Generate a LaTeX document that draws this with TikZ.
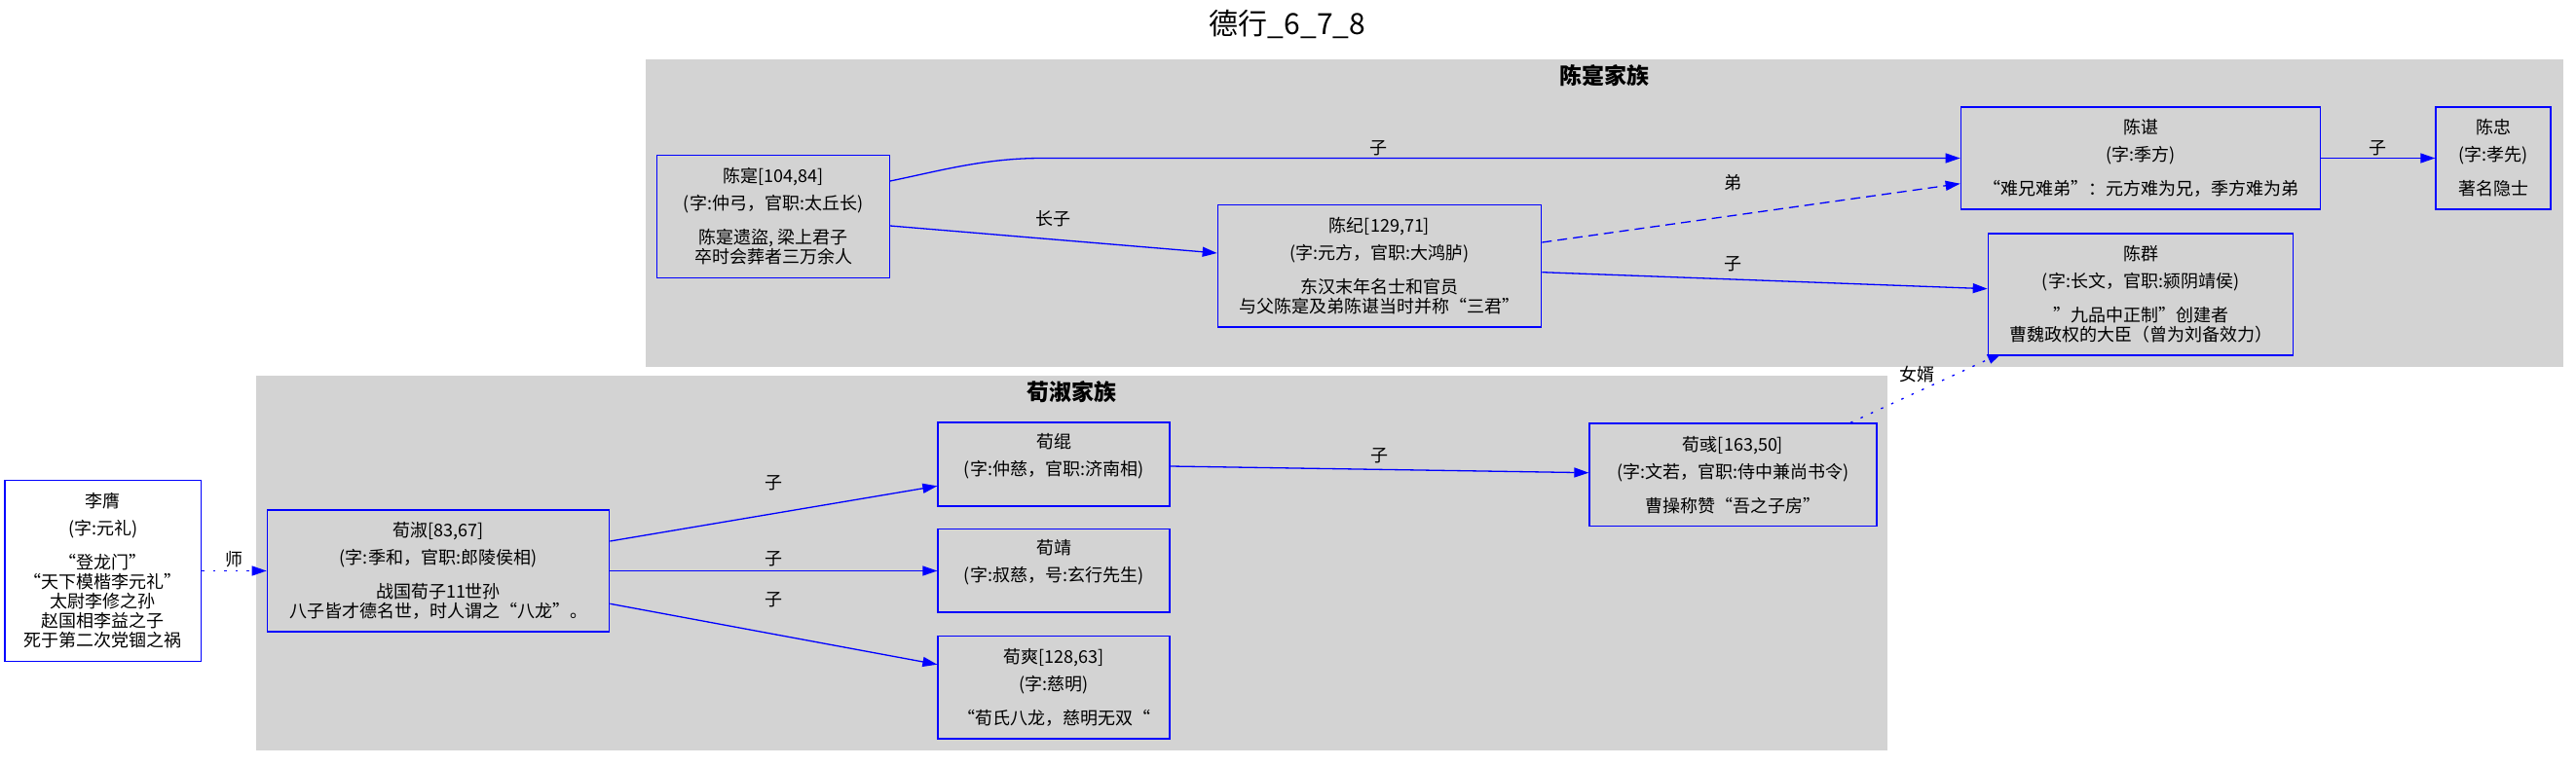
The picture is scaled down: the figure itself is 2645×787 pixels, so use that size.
\documentclass[tikz,border=0pt]{standalone}
\usepackage{fontspec}
\setmainfont{Noto Sans CJK SC}
\usetikzlibrary{arrows.meta,calc}
\pgfdeclarelayer{bg}
\pgfdeclarelayer{edges}
\pgfsetlayers{bg,edges,main}
\definecolor{clgray}{HTML}{D3D3D3}
\definecolor{eblue}{RGB}{0,0,255}
\begin{document}
\begin{tikzpicture}[x=1pt,y=-1pt,
  person/.style={draw=eblue, line width=1.3pt, fill=clgray, inner sep=0pt, align=center,
                 font=\fontsize{18}{20}\selectfont, text=black},
  rel/.style={draw=eblue, line width=1.3pt, -{Triangle[length=15pt,width=10pt]}},
  lab/.style={font=\fontsize{18}{20}\selectfont, inner sep=0pt, text=black},
  dotrel/.style={dash pattern=on 2.5pt off 9pt},
  dashrel/.style={dash pattern=on 10pt off 6pt},
  clab/.style={font=\fontsize{23}{26}\selectfont\bfseries, inner sep=0pt, text=black}
]
\useasboundingbox (0,0) rectangle (2645,787);
\begin{pgfonlayer}{bg}
  \fill[white] (0,0) rectangle (2645,787);
  \fill[clgray] (663,61) rectangle (2632,376.5);
  \fill[clgray] (263.3,386) rectangle (1938,771);
\end{pgfonlayer}

\node[font=\fontsize{30}{34}\selectfont, inner sep=0pt] (title) at (1322,25) {德行\_6\_7\_8};
\node[clab] (chenlab) at (1647,78) {陈寔家族};
\node[clab] (xunlab) at (1100.5,403) {荀淑家族};

% persons
\node[person, fill=white, minimum width=201.6pt, minimum height=185.6pt] (liying) at (105.8,586.5)
  {李膺\\[8pt](字:元礼)\\[15pt]“登龙门”\\“天下模楷李元礼”\\太尉李修之孙\\赵国相李益之子\\死于第二次党锢之祸};
\node[person, minimum width=351.4pt, minimum height=125pt] (xunshu) at (450,586.5)
  {荀淑[83,67]\\[8pt](字:季和，官职:郎陵侯相)\\[15pt]战国荀子11世孙\\八子皆才德名世，时人谓之“八龙”。};
\node[person, minimum width=238pt, minimum height=86pt] (xungun) at (1082,477)
  {荀绲\\[8pt](字:仲慈，官职:济南相)\\\mbox{}};
\node[person, minimum width=238pt, minimum height=85.3pt] (xunjing) at (1082,586.4)
  {荀靖\\[8pt](字:叔慈，号:玄行先生)\\\mbox{}};
\node[person, minimum width=238pt, minimum height=105.3pt] (xunshuang) at (1082,706.4)
  {荀爽[128,63]\\[8pt](字:慈明)\\[15pt]“荀氏八龙，慈明无双“};
\node[person, minimum width=295pt, minimum height=105.5pt] (xunyu) at (1779.5,487.7)
  {荀彧[163,50]\\[8pt](字:文若，官职:侍中兼尚书令)\\[15pt]曹操称赞“吾之子房”};
\node[person, minimum width=238.6pt, minimum height=125.6pt] (chenshi) at (794,222.5)
  {陈寔[104,84]\\[8pt](字:仲弓，官职:太丘长)\\[15pt]陈寔遗盜, 梁上君子\\卒时会葬者三万余人};
\node[person, minimum width=332.4pt, minimum height=125.7pt] (chenji) at (1416.5,273.2)
  {陈纪[129,71]\\[8pt](字:元方，官职:大鸿胪)\\[15pt]东汉末年名士和官员\\与父陈寔及弟陈谌当时并称“三君”};
\node[person, minimum width=369.4pt, minimum height=105pt] (chenchen) at (2198,162.5)
  {陈谌\\[8pt](字:季方)\\[15pt]“难兄难弟”：元方难为兄，季方难为弟};
\node[person, minimum width=313.4pt, minimum height=125pt] (chenqun) at (2198,302.5)
  {陈群\\[8pt](字:长文，官职:颍阴靖侯)\\[15pt]”九品中正制”创建者\\曹魏政权的大臣（曾为刘备效力）};
\node[person, minimum width=118pt, minimum height=105pt] (chenzhong) at (2560,162.5)
  {陈忠\\[8pt](字:孝先)\\[15pt]著名隐士};

\begin{pgfonlayer}{edges}
  \draw[rel, dotrel] (liying.east) -- node[lab, yshift=12pt]{师} (xunshu.west);
  \draw[rel] ($(xunshu.east)+(0,-30.5)$) -- node[lab, yshift=31.7pt]{子} ($(xungun.west)+(0,22.3)$);
  \draw[rel] (xunshu.east) -- node[lab, yshift=12pt]{子} (xunjing.west |- xunshu.east);
  \draw[rel] ($(xunshu.east)+(0,33.8)$) -- node[lab, yshift=35.5pt]{子} ($(xunshuang.west)+(0,-23.7)$);
  \draw[rel] ($(xungun.east)+(0,2)$) -- node[lab, yshift=14.4pt]{子} ($(xunyu.west)+(0,-2)$);
  \draw[rel, dotrel] ($(xunyu.north)+(120.5,0)$) -- node[lab, xshift=-9pt, yshift=13.5pt]{女婿} ($(chenqun.south west)+(15,-3)$);
  \draw[rel] ($(chenshi.east)+(0,-36.5)$) .. controls (963,176) and (1010,162.5) .. (1070,162.5)
     -- node[lab, pos=0.367, yshift=10.5pt]{子} (chenchen.west);
  \draw[rel] ($(chenshi.east)+(0,9.5)$) -- node[lab, yshift=21pt]{长子} ($(chenji.west)+(0,-13.2)$);
  \draw[rel, dashrel] ($(chenji.east)+(0,-24.2)$) -- node[lab, xshift=-19pt, yshift=31pt]{弟} ($(chenchen.west)+(0,26.2)$);
  \draw[rel] ($(chenji.east)+(0,6.5)$) -- node[lab, xshift=-33pt, yshift=17pt]{子} ($(chenqun.west)+(0,-5.8)$);
  \draw[rel] (chenchen.east) -- node[lab, yshift=10.5pt]{子} (chenzhong.west);
\end{pgfonlayer}
\end{tikzpicture}
\end{document}
